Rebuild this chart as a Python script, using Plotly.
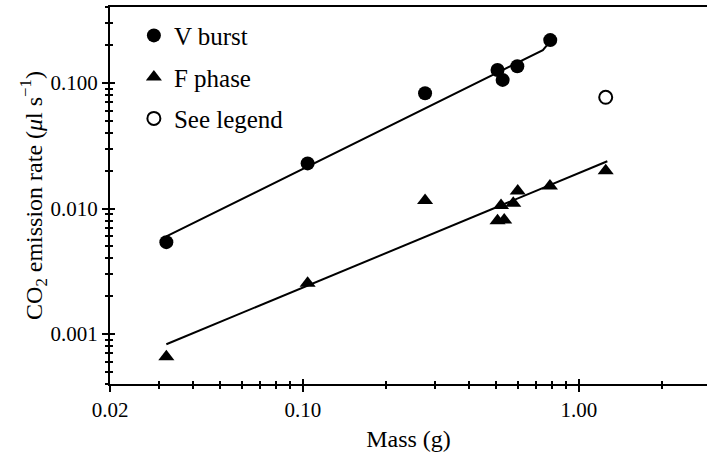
import math
import plotly.graph_objects as go

# ---- data ----
v_mass = [0.032, 0.104, 0.277, 0.507, 0.529, 0.598, 0.787]
v_rate = [0.0054, 0.0229, 0.083, 0.127, 0.106, 0.136, 0.220]

f_mass = [0.032, 0.104, 0.277, 0.507, 0.536, 0.522, 0.578, 0.600, 0.785, 1.25]
f_rate = [0.00066, 0.00254, 0.0116, 0.0080, 0.0081, 0.0106, 0.0110, 0.0138, 0.0151, 0.0200]

open_mass = [1.25]
open_rate = [0.077]

v_fit_mass = [0.032, 0.74, 0.765]
v_fit_rate = [0.0060, 0.183, 0.200]
f_fit_mass = [0.032, 1.267]
f_fit_rate = [0.00083, 0.0238]

x_tickvals = [0.02, 0.1, 1.0]
x_ticktext = ["0.02", "0.10", "1.00"]
y_tickvals = [0.001, 0.01, 0.1]
y_ticktext = ["0.001", "0.010", "0.100"]

FONT = "Liberation Serif"
tickfont = dict(family=FONT, size=21, color="black")
titlefont = dict(family=FONT, size=24, color="black")
legfont = dict(family=FONT, size=25, color="black")
xr = [math.log10(0.02), math.log10(2.91)]
yr = [-3.398, -0.394]

fig = go.Figure()
fig.add_trace(go.Scatter(x=v_fit_mass, y=v_fit_rate, mode="lines",
                         line=dict(color="black", width=2), showlegend=False))
fig.add_trace(go.Scatter(x=f_fit_mass, y=f_fit_rate, mode="lines",
                         line=dict(color="black", width=2), showlegend=False))
fig.add_trace(go.Scatter(x=v_mass, y=v_rate, mode="markers", name="V burst",
                         legendgroup="a",
                         marker=dict(symbol="circle", size=14, color="black")))
fig.add_trace(go.Scatter(x=f_mass, y=f_rate, mode="markers", name="F phase",
                         legendgroup="b",
                         marker=dict(symbol="triangle-up", size=14, color="black")))
fig.add_trace(go.Scatter(x=open_mass, y=open_rate, mode="markers", name="See legend",
                         legendgroup="c",
                         marker=dict(symbol="circle-open", size=13, color="black",
                                     line=dict(width=2, color="black"))))
# invisible trace to host the overlay axes (for crossing ticks)
fig.add_trace(go.Scatter(x=[0.05], y=[0.01], xaxis="x2", yaxis="y2", mode="markers",
                         marker=dict(opacity=0), showlegend=False, hoverinfo="skip"))

common = dict(type="log", showgrid=False, zeroline=False, color="black")
fig.update_layout(
    width=707, height=452,
    margin=dict(l=110, r=0, t=7, b=68),
    paper_bgcolor="white", plot_bgcolor="white",
    font=dict(family=FONT, size=21, color="black"),
    showlegend=True,
    legend=dict(x=0.040, y=0.985, xanchor="left", yanchor="top",
                bgcolor="rgba(0,0,0,0)", tracegroupgap=6,
                font=legfont, itemwidth=30),
    xaxis=dict(**common, range=xr, showline=True, linewidth=2, linecolor="black",
               mirror=True,
               tickmode="array", tickvals=x_tickvals, ticktext=x_ticktext,
               tickfont=tickfont,
               ticks="outside", ticklen=6, tickwidth=2, tickcolor="black",
               minor=dict(ticks="outside", ticklen=3, tickwidth=2, tickcolor="black",
                          dtick="D1", showgrid=False),
               title=dict(text="Mass (g)", standoff=9, font=titlefont)),
    yaxis=dict(**common, range=yr, showline=True, linewidth=2, linecolor="black",
               tickmode="array", tickvals=y_tickvals, ticktext=y_ticktext,
               tickfont=tickfont,
               ticks="outside", ticklen=6, tickwidth=2, tickcolor="black",
               minor=dict(ticks="outside", ticklen=3, tickwidth=2, tickcolor="black",
                          dtick="D1", showgrid=False),
               title=dict(text="CO<sub>2</sub> emission rate (<i>μ</i>l s<sup>−1</sup>)",
                          standoff=0, font=titlefont)),
    xaxis2=dict(**common, range=xr, overlaying="x", anchor="y2", side="bottom",
                showline=False, tickmode="array", tickvals=x_tickvals,
                showticklabels=False, ticks="inside", ticklen=5, tickwidth=2,
                tickcolor="black",
                minor=dict(ticks="inside", ticklen=3, tickwidth=2, tickcolor="black",
                           dtick="D1", showgrid=False)),
    yaxis2=dict(**common, range=yr, overlaying="y", anchor="x2", side="left",
                showline=False, tickmode="array", tickvals=y_tickvals,
                showticklabels=False, ticks="inside", ticklen=5, tickwidth=2,
                tickcolor="black",
                minor=dict(ticks="inside", ticklen=3, tickwidth=2, tickcolor="black",
                           dtick="D1", showgrid=False)),
)

fig.write_html("out.html")
